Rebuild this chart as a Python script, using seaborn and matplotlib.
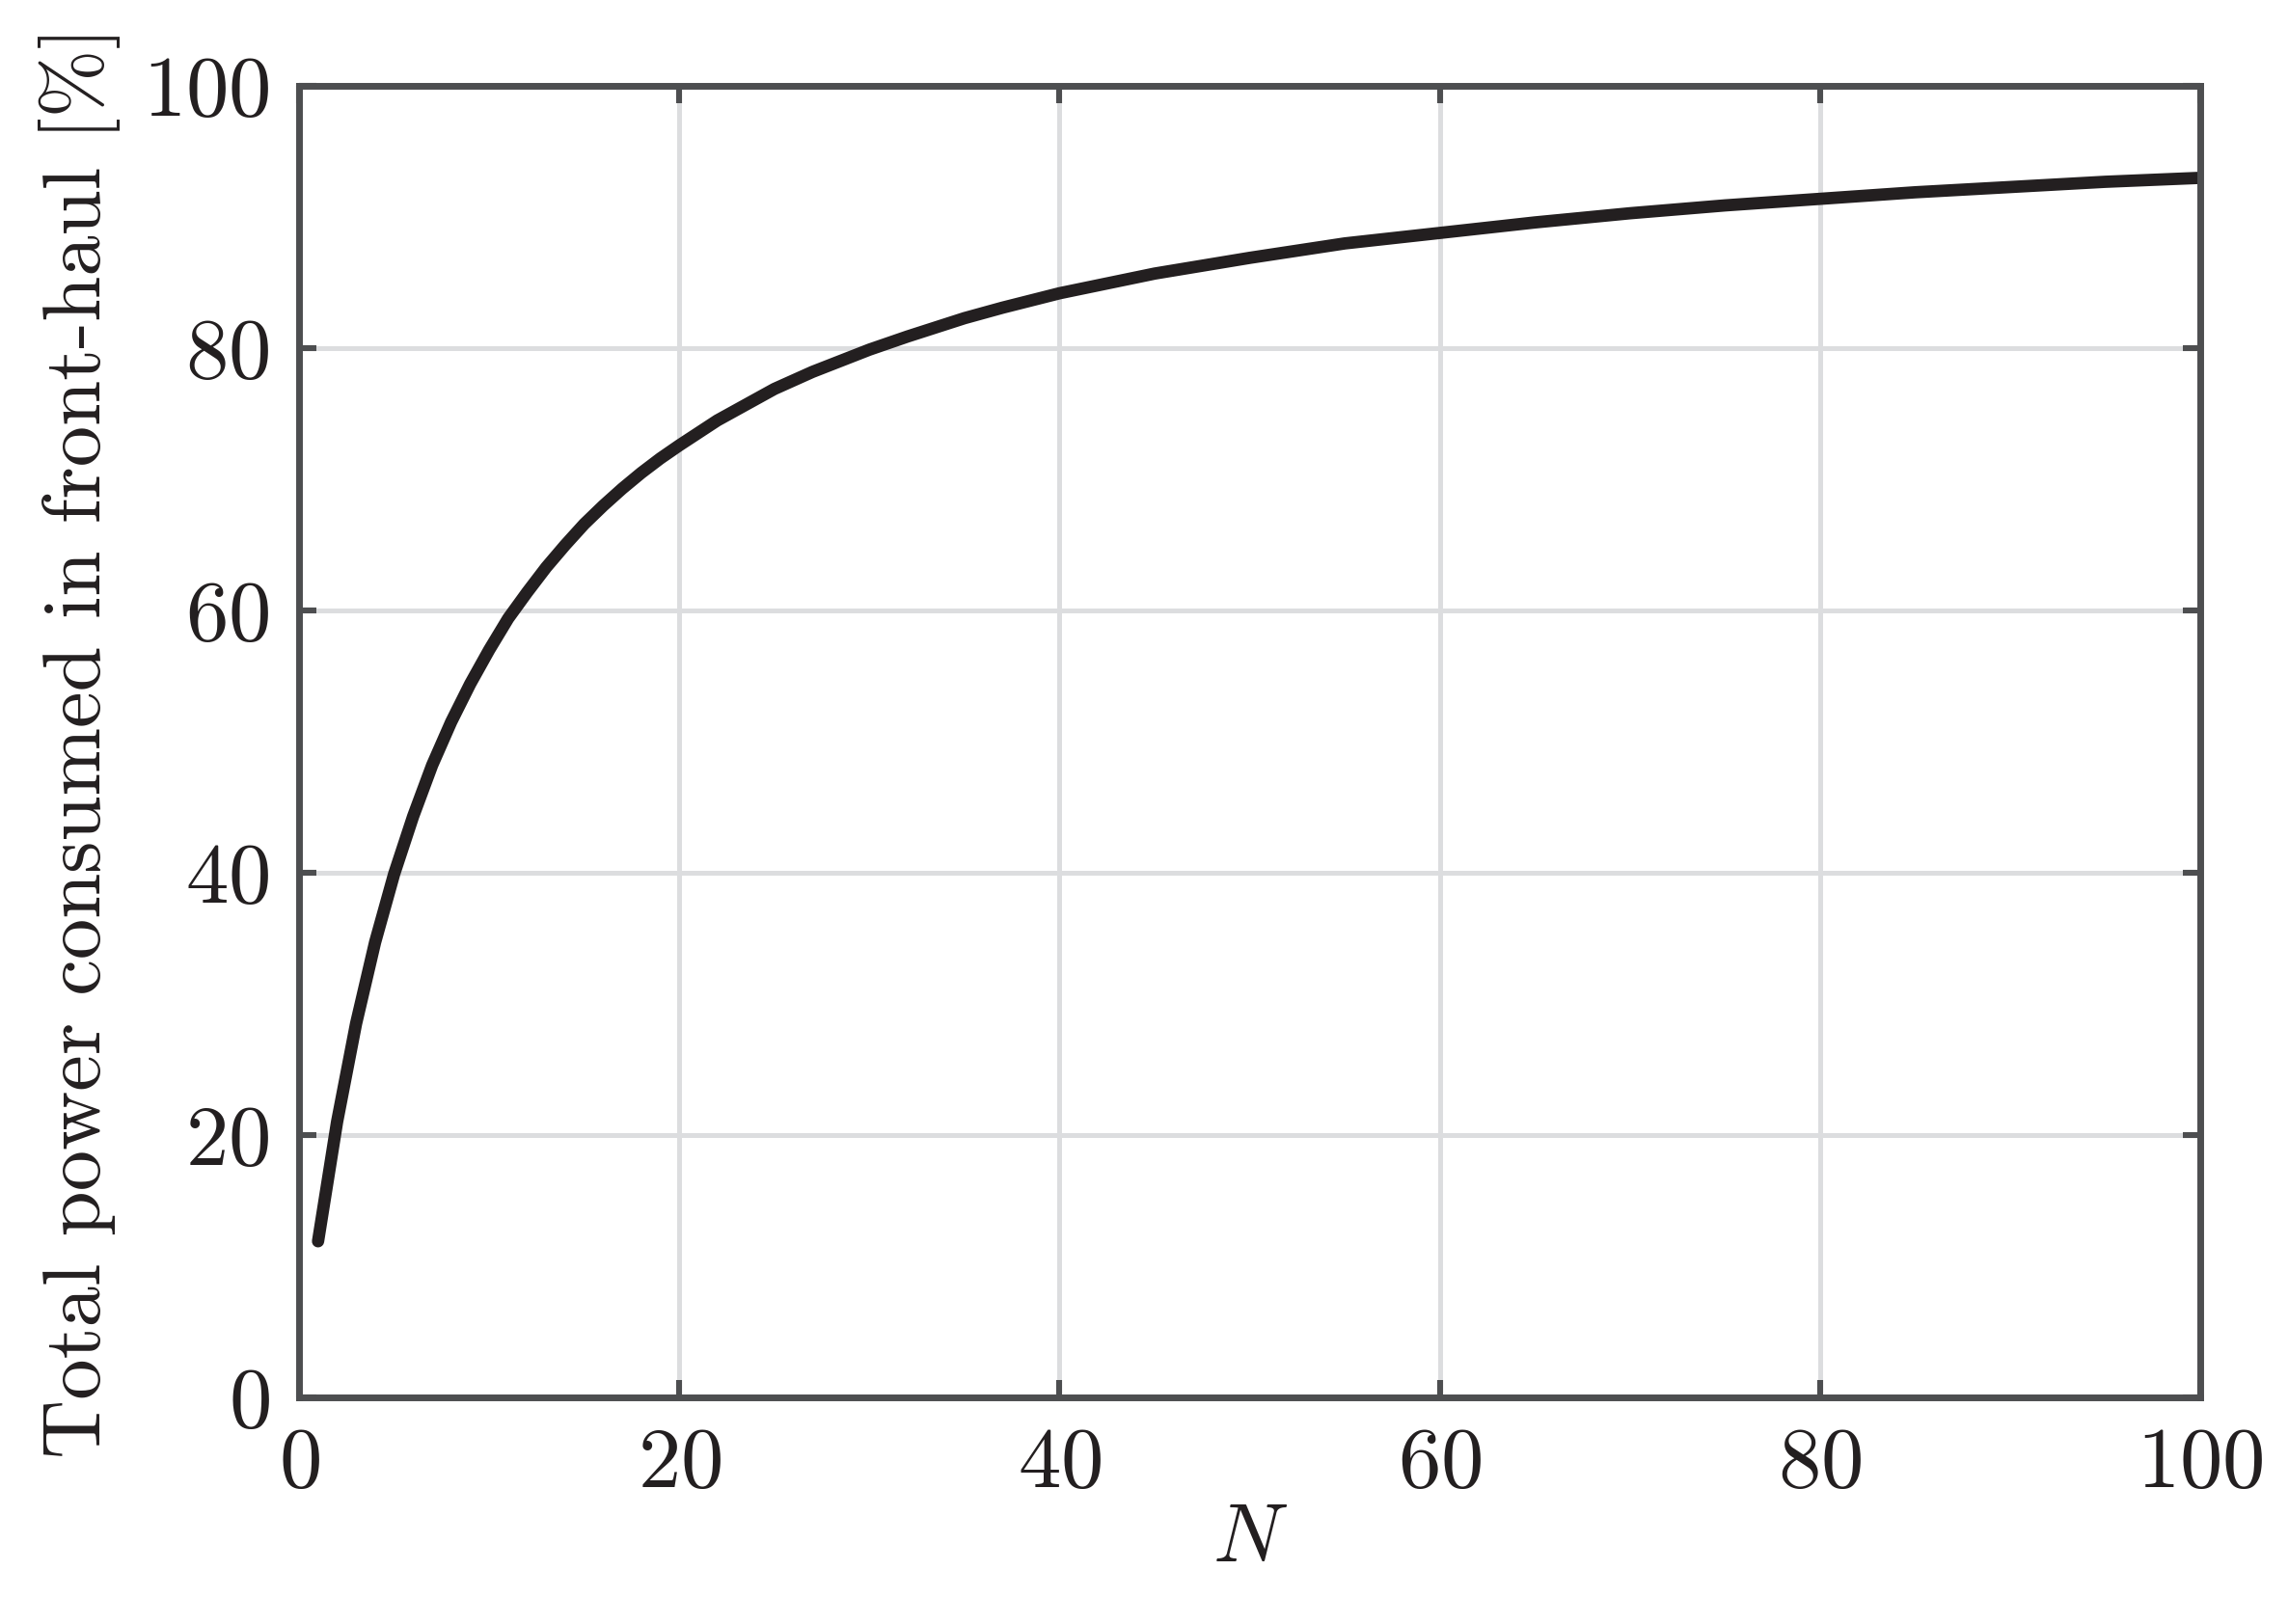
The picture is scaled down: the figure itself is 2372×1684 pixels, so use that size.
import matplotlib
matplotlib.use("Agg")
import matplotlib.pyplot as plt
import pandas as pd
import seaborn as sns

# values
n_users = [1, 2, 3, 4, 5, 6, 7, 8, 9, 10, 11, 12, 13, 14, 15, 16, 17, 18,
           19, 20, 22, 25, 27, 30, 32, 35, 37, 40, 42, 45, 50, 55, 60, 65,
           70, 75, 80, 85, 90, 95, 100]
fronthaul_pct = [11.9, 21.0, 28.5, 34.7, 39.9, 44.3, 48.2, 51.5, 54.4, 57.0,
                 59.4, 61.4, 63.3, 65.0, 66.6, 68.0, 69.3, 70.5, 71.6, 72.6,
                 74.5, 76.9, 78.2, 79.9, 80.9, 82.3, 83.1, 84.2, 84.8, 85.7,
                 86.9, 88.0, 88.8, 89.6, 90.3, 90.9, 91.4, 91.9, 92.3, 92.7,
                 93.0]

x_ticks = [0, 20, 40, 60, 80, 100]
y_ticks = [0, 20, 40, 60, 80, 100]

frame = "#4d4e50"
ink = "#231f20"

sns.set_theme(style="white")
plt.rcParams["font.family"] = ["cmr10", "DejaVu Serif"]
plt.rcParams["mathtext.fontset"] = "cm"
plt.rcParams["axes.formatter.use_mathtext"] = True

df = pd.DataFrame({"N": n_users, "pct": fronthaul_pct})

fig = plt.figure(figsize=(11.86, 8.42), dpi=200)
ax = fig.add_axes([0.1307, 0.1396, 0.8310, 0.8074])

sns.lineplot(data=df, x="N", y="pct", ax=ax, color=ink, linewidth=4.6)

ax.set_xlim(0, 100)
ax.set_ylim(0, 100)
ax.set_xticks(x_ticks)
ax.set_yticks(y_ticks)
ax.grid(True, color="#dcdddf", linewidth=1.8)
ax.set_axisbelow(True)

for sp in ax.spines.values():
    sp.set_visible(True)
    sp.set_color(frame)
    sp.set_linewidth(2.5)

ax.tick_params(direction="in", length=6.5, width=2.2, color=frame,
               top=True, right=True, bottom=True, left=True,
               labelsize=32, labelcolor=ink, pad=11)

ax.set_xlabel(r"$N$", fontsize=31, color=ink, labelpad=0)
ax.set_ylabel("Total power consumed in front-haul [%]", fontsize=30.5,
              color=ink, labelpad=8)

fig.savefig("out.png", dpi=200)
